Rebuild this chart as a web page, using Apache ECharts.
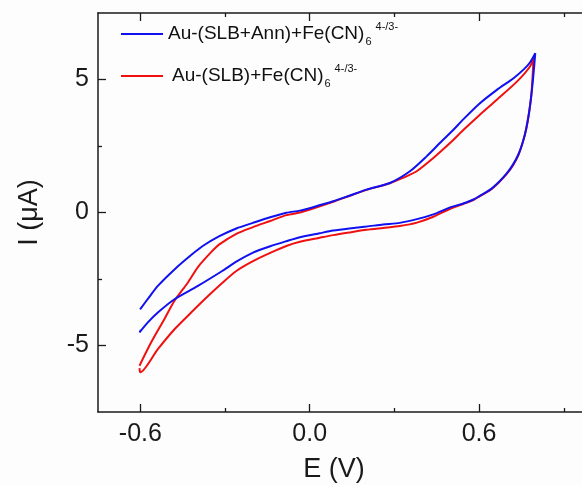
<!DOCTYPE html>
<html>
<head>
<meta charset="utf-8">
<script src="https://cdn.jsdelivr.net/npm/echarts@6/dist/echarts.min.js"></script>
<style>
html,body{margin:0;padding:0;background:#fdfdfd;}
#c{width:582px;height:485px;}
</style>
</head>
<body>
<div id="c"></div>
<script>
// Series names
const seriesNames = ['Au-(SLB+Ann)+Fe(CN)6 4-/3-', 'Au-(SLB)+Fe(CN)6 4-/3-'];

// Au-(SLB+Ann) CV loop: potential (V) and current (µA)
const blueE = [-0.601,-0.57,-0.538,-0.479,-0.42,-0.379,-0.32,-0.26,-0.201,-0.14,-0.083,-0.035,0.012,0.083,0.14,0.201,0.284,0.355,0.414,0.461,0.509,0.544,0.6,0.663,0.722,0.76,0.781,0.799,
  0.796,0.791,0.785,0.777,0.767,0.755,0.74,0.72,0.698,0.67,0.639,0.6,0.58,0.544,0.5,0.438,0.38,0.319,0.26,0.201,0.14,0.083,0.035,-0.035,-0.083,-0.14,-0.201,-0.26,-0.31,-0.396,-0.479,-0.538,-0.575,-0.603,-0.598];
const blueI = [-3.64,-3.2,-2.76,-2.14,-1.6,-1.26,-0.89,-0.6,-0.39,-0.18,-0.01,0.07,0.2,0.42,0.63,0.86,1.11,1.55,2.11,2.61,3.11,3.5,4.08,4.61,5.05,5.4,5.65,5.99,
  5.6,5.0,4.4,3.75,3.15,2.65,2.2,1.8,1.47,1.15,0.86,0.61,0.49,0.34,0.2,-0.07,-0.25,-0.39,-0.45,-0.53,-0.6,-0.68,-0.78,-0.93,-1.08,-1.27,-1.51,-1.85,-2.2,-2.76,-3.26,-3.76,-4.15,-4.51,-4.42];

// Au-(SLB) CV loop
const redE = [-0.603,-0.562,-0.515,-0.479,-0.432,-0.396,-0.35,-0.32,-0.26,-0.201,-0.14,-0.083,-0.035,0.012,0.083,0.14,0.201,0.284,0.33,0.379,0.438,0.497,0.544,0.6,0.663,0.734,0.781,0.793,
  0.79,0.785,0.777,0.767,0.755,0.74,0.72,0.698,0.67,0.639,0.6,0.58,0.544,0.5,0.438,0.38,0.319,0.26,0.201,0.14,0.083,0.035,-0.035,-0.083,-0.14,-0.201,-0.26,-0.31,-0.361,-0.42,-0.479,-0.538,-0.6,-0.603];
const redI = [-5.76,-4.89,-4.01,-3.32,-2.64,-2.05,-1.5,-1.2,-0.8,-0.55,-0.32,-0.1,0.0,0.15,0.4,0.62,0.85,1.1,1.3,1.55,2.05,2.61,3.1,3.65,4.24,4.92,5.5,5.84,
  5.2,4.4,3.75,3.15,2.65,2.18,1.77,1.45,1.13,0.84,0.6,0.47,0.32,0.15,-0.16,-0.38,-0.51,-0.58,-0.65,-0.75,-0.85,-0.95,-1.1,-1.26,-1.52,-1.83,-2.2,-2.65,-3.15,-3.76,-4.39,-5.14,-6.01,-5.85];

// Axis ticks
const xMajor = [-0.6, 0, 0.6];
const xMinor = [-0.3, 0.3, 0.9];
const yMajor = [-5, 0, 5];
const yMinor = [-2.5, 2.5];

const FONT = 'Liberation Sans, Arial, sans-serif';
const AX = '#1a1a1a';

function pairs(xs, ys){ return xs.map((x,i)=>[x, ys[i]]); }

function xAx(pos, ticks, len, show, labels){
  return {
    type:'value', position:pos, min:-0.75, max:1.0,
    axisLine:{show:show, onZero:false, lineStyle:{color:AX, width:1.5}},
    axisTick:{show:true, inside:true, length:len, customValues:ticks, lineStyle:{color:AX, width:1.3}},
    axisLabel:{show:!!labels, customValues:xMajor, margin:10, fontSize:25, fontFamily:FONT, color:'#1a1a1a',
      formatter:v=>v.toFixed(1)},
    splitLine:{show:false},
    name: labels ? 'E (V)' : '', nameLocation:'middle', nameGap:44,
    nameTextStyle:{fontSize:27, fontFamily:FONT, color:'#1a1a1a', padding:[0,22,0,0]}
  };
}
function yAx(pos, ticks, len, show, labels){
  return {
    type:'value', position:pos, min:-7.5, max:7.5,
    axisLine:{show:show, onZero:false, lineStyle:{color:AX, width:1.5}},
    axisTick:{show:true, inside:true, length:len, customValues:ticks, lineStyle:{color:AX, width:1.3}},
    axisLabel:{show:!!labels, customValues:yMajor, margin:9, fontSize:25, fontFamily:FONT, color:'#1a1a1a'},
    splitLine:{show:false},
    name: labels ? 'I (\u03bcA)' : '', nameLocation:'middle', nameGap:55,
    nameTextStyle:{fontSize:27, fontFamily:FONT, color:'#1a1a1a'}
  };
}

const chart = echarts.init(document.getElementById('c'), null, {renderer:'canvas'});
chart.setOption({
  backgroundColor:'#fdfdfd',
  animation:false,
  grid:{left:98, top:13, width:494, height:399, containLabel:false, outerBoundsMode:'none'},
  xAxis:[
    xAx('bottom', xMajor, 8, true, true),
    xAx('bottom', xMinor, 4, false, false),
    xAx('top', xMajor, 8, true, false),
    xAx('top', xMinor, 4, false, false)
  ],
  yAxis:[
    yAx('left', yMajor, 8, true, true),
    yAx('left', yMinor, 4, false, false),
    yAx('right', yMajor, 8, true, false),
    yAx('right', yMinor, 4, false, false)
  ],
  legend:{
    orient:'vertical', left:121, top:21, padding:0,
    itemWidth:42, itemHeight:2, itemGap:16, icon:'rect',
    data:seriesNames,
    formatter:function(name){
      const base = name.split('6 ')[0];
      const key = name === seriesNames[0] ? 'm' : 'm2';
      return '{' + key + '|' + base + '}{sub|6}{sup|4-/3-}';
    },
    textStyle:{
      fontFamily:FONT, color:'#111',
      rich:{
        m:{fontSize:19, fontFamily:FONT, color:'#111', lineHeight:26},
        m2:{fontSize:19, fontFamily:FONT, color:'#111', lineHeight:26, padding:[0,0,0,4]},
        sub:{fontSize:11, fontFamily:FONT, color:'#111', lineHeight:26, verticalAlign:'bottom', padding:[0,0,0,1]},
        sup:{fontSize:11, fontFamily:FONT, color:'#111', lineHeight:26, verticalAlign:'top', padding:[0,0,0,4]}
      }
    }
  },
  series:[
    {name:seriesNames[0], type:'line', xAxisIndex:0, yAxisIndex:0, data:pairs(blueE, blueI),
      showSymbol:false, smooth:0.25, lineStyle:{color:'#1010f0', width:2}, itemStyle:{color:'#1010f0'}, z:3},
    {name:seriesNames[1], type:'line', xAxisIndex:0, yAxisIndex:0, data:pairs(redE, redI),
      showSymbol:false, smooth:0.25, lineStyle:{color:'#f01010', width:2}, itemStyle:{color:'#f01010'}, z:2}
  ]
});
</script>
</body>
</html>
